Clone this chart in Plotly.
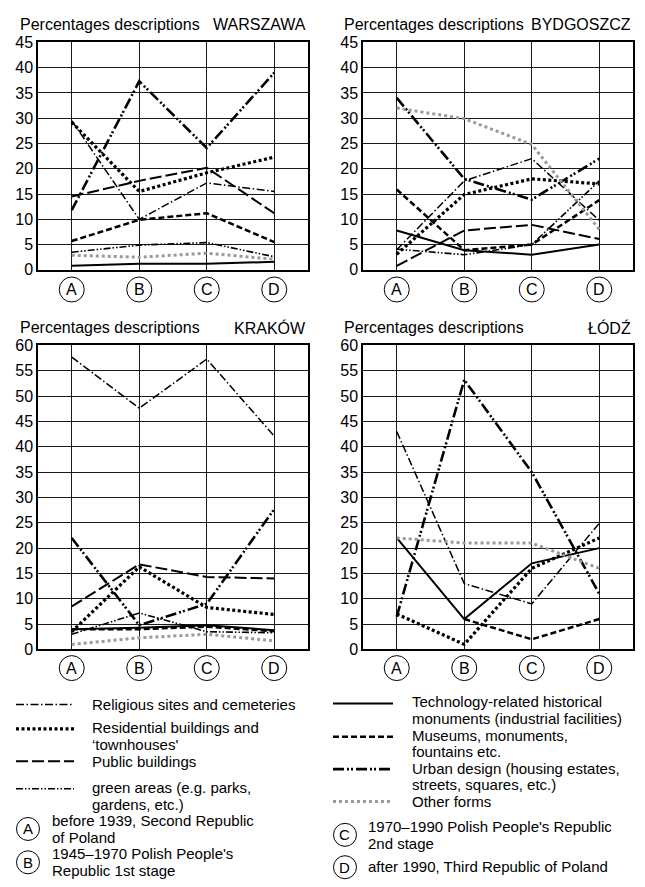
import plotly.graph_objects as go

W, H = 645, 887

# ---------------- data ----------------
CATEGORIES = ["A", "B", "C", "D"]
SERIES = ["Religious sites and cemeteries", "Residential buildings and 'townhouses'",
          "Public buildings", "green areas (e.g. parks, gardens, etc.)",
          "Technology-related historical monuments (industrial facilities)",
          "Museums, monuments, fountains etc.",
          "Urban design (housing estates, streets, squares, etc.)", "Other forms"]

WAR_RELIGIOUS = [29.5, 10.0, 17.2, 15.5]
WAR_RESIDENTIAL = [29.2, 15.5, 19.2, 22.3]
WAR_PUBLIC = [14.5, 17.6, 20.2, 11.2]
WAR_GREEN = [3.5, 4.9, 5.4, 2.6]
WAR_TECHNOLOGY = [0.8, 1.2, 1.2, 1.6]
WAR_MUSEUMS = [5.7, 9.9, 11.2, 5.5]
WAR_URBAN = [11.8, 37.3, 24.1, 39.0]
WAR_OTHER = [2.9, 2.5, 3.3, 2.1]

BYD_RELIGIOUS = [4.0, 17.6, 22.0, 9.8]
BYD_RESIDENTIAL = [3.1, 14.9, 18.0, 17.0]
BYD_PUBLIC = [0.8, 7.8, 8.9, 6.1]
BYD_GREEN = [4.1, 3.0, 5.0, 17.6]
BYD_TECHNOLOGY = [7.8, 3.9, 3.0, 5.0]
BYD_MUSEUMS = [15.9, 3.9, 5.0, 13.8]
BYD_URBAN = [34.0, 18.0, 13.9, 22.0]
BYD_OTHER = [32.0, 29.9, 24.8, 8.0]

KRA_RELIGIOUS = [57.7, 47.6, 57.3, 42.1]
KRA_RESIDENTIAL = [3.5, 16.3, 8.3, 6.9]
KRA_PUBLIC = [8.5, 16.8, 14.3, 14.0]
KRA_GREEN = [3.0, 7.2, 3.5, 3.3]
KRA_TECHNOLOGY = [4.0, 4.3, 4.8, 3.8]
KRA_MUSEUMS = [4.0, 4.0, 4.5, 3.6]
KRA_URBAN = [22.0, 4.8, 9.0, 27.7]
KRA_OTHER = [1.0, 2.3, 3.0, 1.7]

LOD_RELIGIOUS = [43.0, 13.0, 9.0, 24.9]
LOD_RESIDENTIAL = [7.0, 1.0, 16.0, 22.0]
LOD_PUBLIC = [None, None, None, None]
LOD_GREEN = [None, None, None, None]
LOD_TECHNOLOGY = [22.0, 6.0, 17.0, 20.0]
LOD_MUSEUMS = [None, 6.0, 2.0, 6.0]
LOD_URBAN = [6.5, 53.2, 35.0, 11.0]
LOD_OTHER = [22.0, 21.0, 21.0, 16.0]

CITIES = ["WARSZAWA", "BYDGOSZCZ", "KRAKÓW", "ŁÓDŹ"]
Y_MAX = [45, 45, 60, 60]
PERIOD_TEXT = {
    "A": ["before 1939, Second Republic", "of Poland"],
    "B": ["1945–1970 Polish People's", "Republic 1st stage"],
    "C": ["1970–1990 Polish People's Republic", "2nd stage"],
    "D": ["after 1990, Third Republic of Poland"],
}
LEGEND_TEXT = [
    ["Religious sites and cemeteries"],
    ["Residential buildings and", "‘townhouses'"],
    ["Public buildings"],
    ["green areas (e.g. parks,", "gardens, etc.)"],
    ["Technology-related historical", "monuments (industrial facilities)"],
    ["Museums, monuments,", "fountains etc."],
    ["Urban design (housing estates,", "streets, squares, etc.)"],
    ["Other forms"],
]

# ---------------- styles ----------------
STYLES = [
    dict(color="black", width=1.5, dash="8px,2.5px,1.5px,2.5px"),
    dict(color="black", width=3.2, dash="3px,2.5px"),
    dict(color="black", width=2.0, dash="12px,4px"),
    dict(color="black", width=1.6, dash="7px,2px,1.5px,2px,1.5px,2px"),
    dict(color="black", width=2.0, dash="solid"),
    dict(color="black", width=2.5, dash="6px,3px"),
    dict(color="black", width=2.6, dash="11px,3px,2px,2px,2px,3px"),
    dict(color="#9a9a9a", width=3.0, dash="3px,3px"),
]

city_data = [
    [WAR_RELIGIOUS, WAR_RESIDENTIAL, WAR_PUBLIC, WAR_GREEN, WAR_TECHNOLOGY, WAR_MUSEUMS, WAR_URBAN, WAR_OTHER],
    [BYD_RELIGIOUS, BYD_RESIDENTIAL, BYD_PUBLIC, BYD_GREEN, BYD_TECHNOLOGY, BYD_MUSEUMS, BYD_URBAN, BYD_OTHER],
    [KRA_RELIGIOUS, KRA_RESIDENTIAL, KRA_PUBLIC, KRA_GREEN, KRA_TECHNOLOGY, KRA_MUSEUMS, KRA_URBAN, KRA_OTHER],
    [LOD_RELIGIOUS, LOD_RESIDENTIAL, LOD_PUBLIC, LOD_GREEN, LOD_TECHNOLOGY, LOD_MUSEUMS, LOD_URBAN, LOD_OTHER],
]


def px(x):
    return x / W


def py(y):
    return 1 - y / H


FONT = "Liberation Sans, Arial, sans-serif"

# panel geometry in pixels: (left, right, top, bottom, title_y, circle_y)
PANELS = [
    (38, 308, 35, 267, 17, 287),
    (363, 633, 35, 267, 17, 287),
    (38, 308, 344, 654, 326, 673),
    (363, 633, 344, 654, 326, 673),
]
TITLE_LEFT = [18, 342, 18, 342]

fig = go.Figure()
layout = dict(width=W, height=H, margin=dict(l=0, r=0, t=0, b=0),
              paper_bgcolor="white", plot_bgcolor="white", showlegend=False,
              font=dict(family=FONT, color="black"))
shapes = []
annotations = []

xpos = list(range(len(CATEGORIES)))
for i, city in enumerate(CITIES):
    left, right, top, bottom, ty, cy = PANELS[i]
    xa = "xaxis" if i == 0 else f"xaxis{i+1}"
    ya = "yaxis" if i == 0 else f"yaxis{i+1}"
    xr = "x" if i == 0 else f"x{i+1}"
    yr = "y" if i == 0 else f"y{i+1}"
    layout[xa] = dict(domain=[px(left), px(right)], range=[-0.5, 3.5], anchor=yr,
                      tickvals=xpos, showticklabels=False, ticks="",
                      showgrid=True, gridcolor="#1a1a1a", gridwidth=1,
                      showline=True, mirror=True, linecolor="black", linewidth=1.5,
                      zeroline=False, fixedrange=True)
    layout[ya] = dict(domain=[py(bottom), py(top)], range=[0, Y_MAX[i]], anchor=xr,
                      dtick=5, tick0=0, ticks="", showgrid=True, gridcolor="#1a1a1a",
                      gridwidth=1, showline=True, mirror=True, linecolor="black",
                      linewidth=1.5, zeroline=False, tickfont=dict(size=16),
                      fixedrange=True)
    for s, vals in enumerate(city_data[i]):
        if all(v is None for v in vals):
            continue
        st = STYLES[s]
        fig.add_trace(go.Scatter(x=xpos, y=vals, mode="lines", name=SERIES[s],
                                 xaxis=xr, yaxis=yr, connectgaps=False,
                                 line=dict(color=st["color"], width=st["width"],
                                           dash=st["dash"])))
    # titles
    annotations.append(dict(xref="paper", yref="paper", x=px(TITLE_LEFT[i]), y=py(ty),
                            text="Percentages descriptions", showarrow=False,
                            xanchor="left", yanchor="middle", font=dict(size=16)))
    annotations.append(dict(xref="paper", yref="paper", x=px(right), y=py(ty),
                            text=city, showarrow=False, xanchor="right",
                            yanchor="middle", font=dict(size=16)))
    # category circles
    for k, cat in enumerate(CATEGORIES):
        shapes.append(dict(type="circle", xref=xr, yref="paper", xsizemode="pixel",
                           ysizemode="pixel", xanchor=k, yanchor=py(cy),
                           x0=-12.5, x1=12.5, y0=-12.5, y1=12.5,
                           line=dict(color="black", width=1)))
        annotations.append(dict(xref=xr, yref="paper", x=k, y=py(cy), text=cat,
                                showarrow=False, xanchor="center", yanchor="middle",
                                font=dict(size=16)))

# ---------------- legend ----------------
# (series index, y of sample line, y of first text line)
LEG_ROWS_LEFT = [(0, 710, 710), (1, 735, 734), (2, 768, 768), (3, 796, 795)]
LEG_ROWS_RIGHT = [(4, 709, 707.5), (5, 743, 741.5), (6, 776, 775), (7, 809, 809)]
LEG_SIZE = 15
LINE_GAP = 17


def leg_text(x, y, lines):
    for j, t in enumerate(lines):
        annotations.append(dict(xref="paper", yref="paper", x=px(x),
                                y=py(y + j * LINE_GAP), text=t, showarrow=False,
                                xanchor="left", yanchor="middle",
                                font=dict(size=LEG_SIZE)))


for rows, x0, x1, tx in [(LEG_ROWS_LEFT, 16, 74, 90), (LEG_ROWS_RIGHT, 333, 393, 410)]:
    for s, y, yt in rows:
        st = STYLES[s]
        shapes.append(dict(type="line", xref="paper", yref="paper", x0=px(x0), x1=px(x1),
                           y0=py(y), y1=py(y),
                           line=dict(color=st["color"], width=st["width"], dash=st["dash"])))
        leg_text(tx, yt, LEGEND_TEXT[s])

for cat, cx, cyy, tx, ty0 in [("A", 28, 837, 50, 828.5), ("B", 28, 871, 50, 862.5),
                              ("C", 345, 843, 366, 835), ("D", 345, 876, 366, 875)]:
    shapes.append(dict(type="circle", xref="paper", yref="paper", xsizemode="pixel",
                       ysizemode="pixel", xanchor=px(cx), yanchor=py(cyy),
                       x0=-11.5, x1=11.5, y0=-11.5, y1=11.5,
                       line=dict(color="black", width=1)))
    annotations.append(dict(xref="paper", yref="paper", x=px(cx), y=py(cyy), text=cat,
                            showarrow=False, xanchor="center", yanchor="middle",
                            font=dict(size=15)))
    leg_text(tx, ty0, PERIOD_TEXT[cat])

layout["shapes"] = shapes
layout["annotations"] = annotations
fig.update_layout(**layout)
fig.write_html("out.html")
